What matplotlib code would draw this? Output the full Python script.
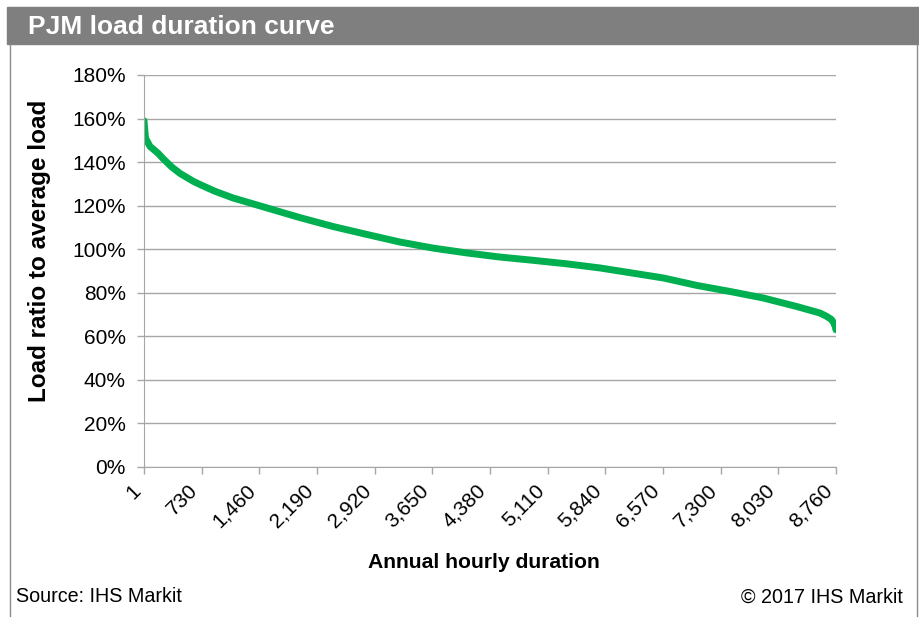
import matplotlib.pyplot as plt
from matplotlib.patches import Rectangle
from matplotlib.lines import Line2D
from matplotlib.ticker import FuncFormatter

plt.rcParams['font.family'] = ['Liberation Sans', 'DejaVu Sans']

# load duration curve
hours = [1, 20, 77, 181, 245, 351, 457, 625, 710, 900, 1131, 1554, 1976,
         2397, 2820, 3241, 3663, 4086, 4507, 4929, 5351, 5772, 6279, 6574,
         6996, 7418, 7840, 8262, 8557, 8640, 8700, 8730, 8750, 8760]
ratio = [1.59, 1.51, 1.472, 1.44, 1.415, 1.378, 1.348, 1.312, 1.297, 1.266,
         1.235, 1.19, 1.145, 1.104, 1.068, 1.033, 1.005, 0.983, 0.964,
         0.949, 0.933, 0.914, 0.885, 0.868, 0.834, 0.806, 0.776, 0.737,
         0.707, 0.692, 0.678, 0.663, 0.645, 0.63]

xticks = [1, 730, 1460, 2190, 2920, 3650, 4380, 5110, 5840, 6570, 7300,
          8030, 8760]
yticks = [0, 0.2, 0.4, 0.6, 0.8, 1.0, 1.2, 1.4, 1.6, 1.8]

W, H = 920, 617
fig = plt.figure(figsize=(W / 100, H / 100), dpi=100)

# grey title bar
fig.patches.append(Rectangle((7 / W, 1 - 44 / H), 1, 37 / H,
                             transform=fig.transFigure, color='#7f7f7f'))
fig.text(28 / W, 1 - 27 / H, 'PJM load duration curve', color='white',
         fontsize=19, fontweight='bold', va='center', ha='left')

# frame lines left and right
fig.lines.append(Line2D([10 / W, 10 / W], [0, 1 - 44 / H],
                        transform=fig.transFigure, color='#8c8c8c', lw=1))
fig.lines.append(Line2D([917 / W, 917 / W], [0, 1 - 44 / H],
                        transform=fig.transFigure, color='#8c8c8c', lw=1))

ax = fig.add_axes([144 / W, 1 - 467 / H, 692 / W, 392 / H])
ax.plot(hours, ratio, color='#00b050', lw=5, solid_capstyle='round',
        solid_joinstyle='round')

ax.set_xlim(1, 8760)
ax.set_ylim(0, 1.8)
ax.set_xticks(xticks)
ax.set_xticklabels([f'{t:,}' for t in xticks], rotation=45, ha='right')
ax.set_yticks(yticks)
ax.yaxis.set_major_formatter(FuncFormatter(lambda v, p: f'{v * 100:.0f}%'))

ax.grid(axis='y', color='#a6a6a6', lw=1)
ax.set_axisbelow(True)
for s in ['top', 'right']:
    ax.spines[s].set_visible(False)
for s in ['left', 'bottom']:
    ax.spines[s].set_color('#a6a6a6')
ax.tick_params(axis='both', colors='#a6a6a6', labelcolor='black',
               labelsize=15, length=5, width=1)
ax.tick_params(axis='y', pad=8)
ax.tick_params(axis='x', pad=5)

fig.text(40 / W, 1 - 251 / H, 'Load ratio to average load', fontsize=17.5,
         fontweight='bold', rotation=90, ha='center', va='center')
fig.text(484 / W, 1 - 562 / H, 'Annual hourly duration', fontsize=15.2,
         fontweight='bold', ha='center', va='center')

fig.text(16 / W, 1 - 597 / H, 'Source: IHS Markit', fontsize=14.2,
         ha='left', va='center')
fig.text(903 / W, 1 - 597 / H, '\u00a9 2017 IHS Markit', fontsize=14.2,
         ha='right', va='center')

plt.savefig('out.png', dpi=100)
